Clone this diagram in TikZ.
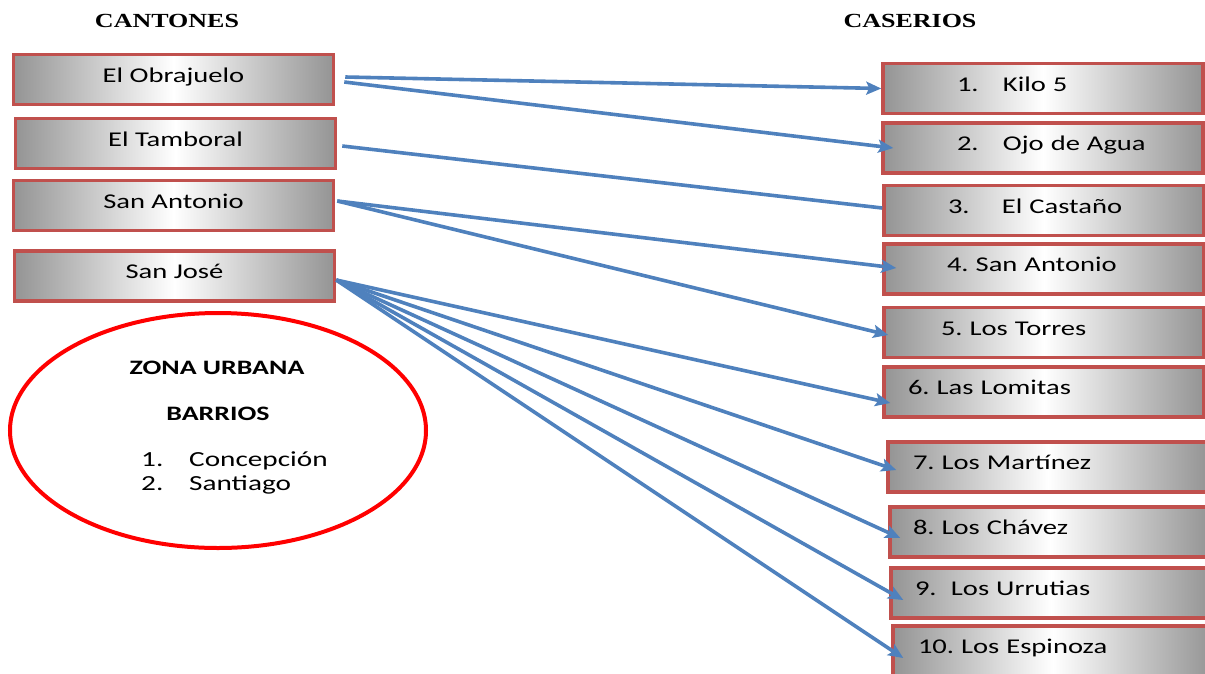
\documentclass[tikz,border=0pt]{standalone}
\usepackage{fontspec}
\newfontfamily\boxfont{Carlito}[FakeStretch=1.36]
\newfontfamily\headfont{Liberation Serif}[FakeStretch=1.3]
\usetikzlibrary{arrows.meta,shapes.geometric}
\definecolor{boxred}{RGB}{192,80,77}
\definecolor{arrowblue}{RGB}{79,129,189}
\definecolor{ringred}{RGB}{255,0,0}
\frenchspacing
\begin{document}
\begin{tikzpicture}[x=1pt, y=-1pt,
               box_style/.style={draw=boxred, line width=3.5pt, left color=black!42, right color=black!42, middle color=white, inner sep=0pt, minimum height=50pt, text height=14pt, text depth=9pt, font=\boxfont\fontsize{21}{25}\selectfont},
               canton_style/.style={box_style, minimum width=320pt},
               caserio_style/.style={box_style, text width=320pt, align=left},
               head_style/.style={font=\headfont\bfseries\fontsize{20}{24}\selectfont},
               zona_style/.style={ellipse, draw=ringred, line width=4pt, minimum width=416pt, minimum height=235pt, inner sep=0pt},
               zona_text/.style={font=\boxfont\fontsize{21.5}{25}\selectfont, inner sep=0pt},
               zona_head/.style={zona_text, font=\boxfont\bfseries\fontsize{20.5}{24}\selectfont},
               edge_style/.style={draw=arrowblue, line width=3.6pt},
               arrow_style/.style={edge_style, -{Stealth[length=15pt, width=13pt, inset=3pt]}}]
                \useasboundingbox (0,0) rectangle (1205,673);

                % titles
                \node[head_style] (cantones) at (167,21) {CANTONES};
                \node[head_style] (caserios) at (910,21) {CASERIOS};

                % cantones
                \node[canton_style] (obra) at (173.5,79.5) {El Obrajuelo};
                \node[canton_style] (tamb) at (175.5,143.5) {El Tamboral};
                \node[canton_style] (anto) at (173.5,205.5) {San Antonio};
                \node[canton_style] (jose) at (174.5,276) {San José};

                % caserios
                \node[caserio_style] (kilo) at (1043,88.5) {\hspace*{74pt}\makebox[46pt][l]{1.}Kilo 5};
                \node[caserio_style] (ojo)  at (1043,148) {\hspace*{74pt}\makebox[46pt][l]{2.}Ojo de Agua};
                \node[caserio_style] (cast) at (1044,210.5) {\hspace*{64pt}\makebox[54pt][l]{3.}El Castaño};
                \node[caserio_style] (sant) at (1044,269) {\hspace*{63pt}4. San Antonio};
                \node[caserio_style] (torr) at (1044,332.5) {\hspace*{57pt}5. Los Torres};
                \node[caserio_style] (lomi) at (1044,392) {\hspace*{24pt}6. Las Lomitas};
                \node[caserio_style] (mart) at (1048,467) {\hspace*{25pt}7. Los Martínez};
                \node[caserio_style] (chav) at (1050,532) {\hspace*{23pt}8. Los Chávez};
                \node[caserio_style] (urru) at (1051,593) {\hspace*{24pt}\makebox[36pt][l]{9.}Los Urrutias};
                \node[caserio_style] (espi) at (1053,651) {\hspace*{25pt}10. Los Espinoza};

                % zona urbana
                \node[zona_style] (zona) at (218,430.5) {};
                \node[zona_head] (zonat) at (217,368) {ZONA URBANA};
                \node[zona_head] (barr) at (218,414) {BARRIOS};
                \node[zona_text, anchor=west] (conc) at (141,461) {\makebox[48pt][l]{1.}Concepción};
                \node[zona_text, anchor=west] (stgo) at (141,485) {\makebox[48pt][l]{2.}Santiago};

                % conexiones
                \draw[arrow_style] ([xshift=10pt,yshift=2.5pt]obra.east) -- (kilo.west);
                \draw[arrow_style] ([xshift=9pt,yshift=-2.5pt]obra.east) -- ([xshift=12pt]ojo.west);
                \draw[edge_style]  ([xshift=5pt,yshift=-2.5pt]tamb.east) -- ([yshift=2.5pt]cast.west);
                \draw[arrow_style] ([xshift=2pt,yshift=4.5pt]anto.east) -- ([xshift=14pt,yshift=1pt]sant.west);
                \draw[arrow_style] ([xshift=2pt,yshift=4.5pt]anto.east) -- ([xshift=6pt,yshift=-2.5pt]torr.west);
                \draw[arrow_style] ([yshift=-4pt]jose.east) -- ([xshift=8pt,yshift=-11pt]lomi.west);
                \draw[arrow_style] ([yshift=-4pt]jose.east) -- ([xshift=10pt,yshift=-3pt]mart.west);
                \draw[arrow_style] ([yshift=-4pt]jose.east) -- ([xshift=12pt,yshift=-6pt]chav.west);
                \draw[arrow_style] ([yshift=-4pt]jose.east) -- ([xshift=14pt,yshift=-7pt]urru.west);
                \draw[arrow_style] ([yshift=-4pt]jose.east) -- ([xshift=12pt,yshift=-7pt]espi.west);
            \end{tikzpicture}
\end{document}
